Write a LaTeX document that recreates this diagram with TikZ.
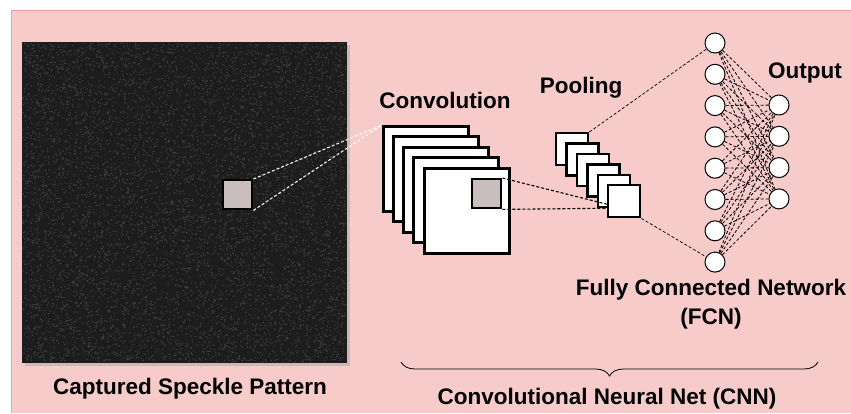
\documentclass[tikz,border=0pt]{standalone}
\usepackage{fontspec}
\setmainfont{Liberation Sans}
\usetikzlibrary{decorations.pathreplacing}

\definecolor{bgpink}{HTML}{F6CBCA}
\definecolor{bgedge}{HTML}{E3A7A6}
\definecolor{patchgray}{HTML}{C9BDBE}
\definecolor{specklebg}{HTML}{1D1D1D}
\definecolor{speckdot}{HTML}{404040}

\begin{document}
\begin{tikzpicture}[x=1pt,y=-1pt,
    lbl/.style={font=\bfseries\fontsize{22.5}{26}\selectfont,inner sep=0pt},
    fmap/.style={draw,line width=2.6pt,fill=white,inner sep=0pt,anchor=north west,minimum size=85pt},
    pmap/.style={draw,line width=2.4pt,fill=white,inner sep=0pt,anchor=north west,minimum size=32pt},
    patch/.style={draw,line width=2.4pt,fill=patchgray,inner sep=0pt,anchor=north west,minimum size=29pt},
    neuron/.style={draw,circle,line width=1pt,fill=white,inner sep=0pt,minimum size=20pt},
    link/.style={densely dashed,line width=0.8pt}]
      \useasboundingbox (0,0) rectangle (851,413);
      \fill[white] (0,0) rectangle (851,413);
      \fill[bgpink] (11,10) rectangle (851,413);
      \draw[bgedge,line width=1pt] (11,413) -- (11,10) -- (851,10);

      % speckle image
      \fill[gray!70,opacity=0.5] (25,45) rectangle (350,366);
      \node[fill=specklebg,inner sep=0pt,minimum width=325pt,minimum height=321pt,anchor=north west] (speckle) at (22,42) {};
      \pgfmathsetseed{42}
      \foreach \j in {1,...,12} {
        \fill[speckdot] \foreach \i in {1,...,500} { ({23+323*rnd},{43+319*rnd}) circle (0.8pt) };
      }
      \foreach \j in {1,...,3} {
        \fill[gray!55!black] \foreach \i in {1,...,400} { ({23+323*rnd},{43+319*rnd}) circle (0.6pt) };
      }
      \node[patch] (spatch) at (222,179) {};

      % convolution maps
      \foreach \k/\x/\y in {1/382/125,2/392/135,3/402/146,4/412/156,5/423/167} {
        \node[fmap] (conv\k) at (\x,\y) {};
      }
      \node[patch] (cpatch) at (471,178) {};

      % pooling maps
      \foreach \k in {1,...,6} {
        \node[pmap] (pool\k) at ({555+10.4*(\k-1)},{132+10.4*(\k-1)}) {};
      }

      % fully connected part
      \foreach \k in {1,...,8} {
        \node[neuron] (h\k) at (715,{43+31.3*(\k-1)}) {};
      }
      \foreach \k in {1,...,4} {
        \node[neuron] (o\k) at (779,{105+31.3*(\k-1)}) {};
      }
      \foreach \a in {1,...,8} {
        \foreach \b in {1,...,4} {
          \draw[link] (h\a) -- (o\b);
        }
      }

      % dashed links between stages
      \draw[link,white,line width=1pt] (spatch.north east) -- (conv1.north west);
      \draw[link,white,line width=1pt] (spatch.south east) -- (conv1.north west);
      \draw[link,line width=1.1pt] (cpatch.north east) -- ([yshift=-3pt]pool6.west);
      \draw[link,line width=1.1pt] (cpatch.south east) -- ([yshift=-7pt]pool6.west);
      \draw[link,line width=0.7pt] (pool1.north east) -- (h1);
      \draw[link,line width=0.7pt] (pool6.south east) -- (h8);

      % labels
      \node[lbl] (convtxt) at (445,100) {Convolution};
      \node[lbl] (pooltxt) at (581,88) {Pooling};
      \node[lbl] (outtxt) at (805,73) {Output};
      \node[lbl] (fcntxt) at (711,290) {Fully Connected Network};
      \node[lbl] (fcnabbr) at (711,319) {(FCN)};
      \node[lbl] (specktxt) at (190,389) {Captured Speckle Pattern};

      \coordinate (cnnL) at (401,362);
      \coordinate (cnnR) at (818,362);
      \draw[line width=0.8pt,decorate,decoration={brace,mirror,amplitude=14pt}] (cnnL) -- (cnnR);
      \node[lbl] (cnntxt) at (607,399) {Convolutional Neural Net (CNN)};
    \end{tikzpicture}
\end{document}
